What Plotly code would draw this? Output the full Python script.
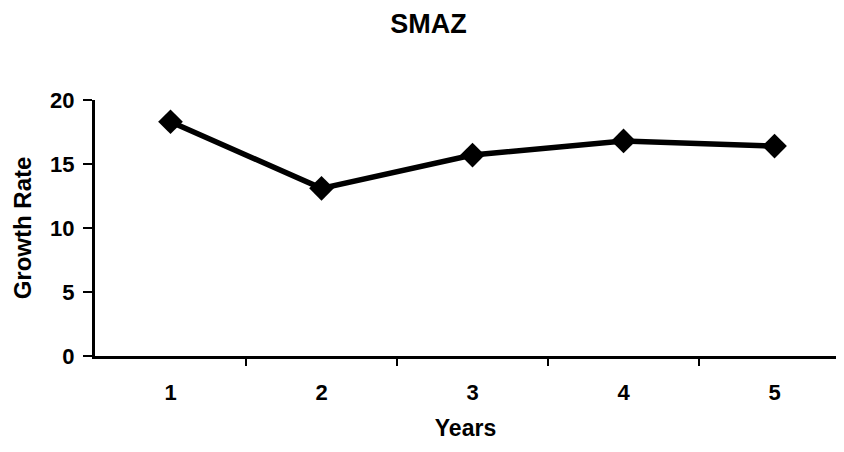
import plotly.graph_objects as go

# Datos
years = [1, 2, 3, 4, 5]
growth_rate = [18.3, 13.1, 15.7, 16.8, 16.4]
y_ticks = [0, 5, 10, 15, 20]

FONT = "Liberation Sans, Arial, sans-serif"

# La página tiene 8 px de margen en el body: la figura se reduce 16 px
fig = go.Figure(go.Scatter(
    x=years, y=growth_rate,
    mode='lines+markers',
    line=dict(color='black', width=5.5),
    marker=dict(symbol='diamond', size=19, color='black'),
    showlegend=False,
))

fig.update_layout(
    width=828, height=436,
    paper_bgcolor='white', plot_bgcolor='white',
    margin=dict(l=87, r=0, t=92, b=88),
    title=dict(text="<b>SMAZ</b>", x=0.508, xanchor='center',
               y=0.965, yanchor='middle',
               font=dict(family=FONT, size=27, color='black')),
    font=dict(family=FONT, color='black'),
)

fig.update_xaxes(
    range=[0.5, 5.407],
    tickvals=years, ticktext=[f"<b>{v}</b>" for v in years],
    ticks='', showgrid=False, zeroline=False,
    showline=True, linecolor='black', linewidth=3,
    tickfont=dict(family=FONT, size=22),
    ticklabelstandoff=15,
    title=dict(text="<b>Years</b>", font=dict(family=FONT, size=23), standoff=16),
    minor=dict(tickvals=[1.5, 2.5, 3.5, 4.5], ticks='outside', ticklen=7,
               tickwidth=2, tickcolor='black'),
)

fig.update_yaxes(
    range=[0, 20],
    tickvals=y_ticks, ticktext=[f"<b>{v}</b>" for v in y_ticks],
    ticks='outside', ticklen=9, tickwidth=2, tickcolor='black',
    showgrid=False, zeroline=False,
    showline=True, linecolor='black', linewidth=3,
    tickfont=dict(family=FONT, size=22),
    ticklabelstandoff=4,
    title=dict(text="<b>Growth Rate</b>", font=dict(family=FONT, size=24), standoff=12),
)

fig.write_html("out.html")
